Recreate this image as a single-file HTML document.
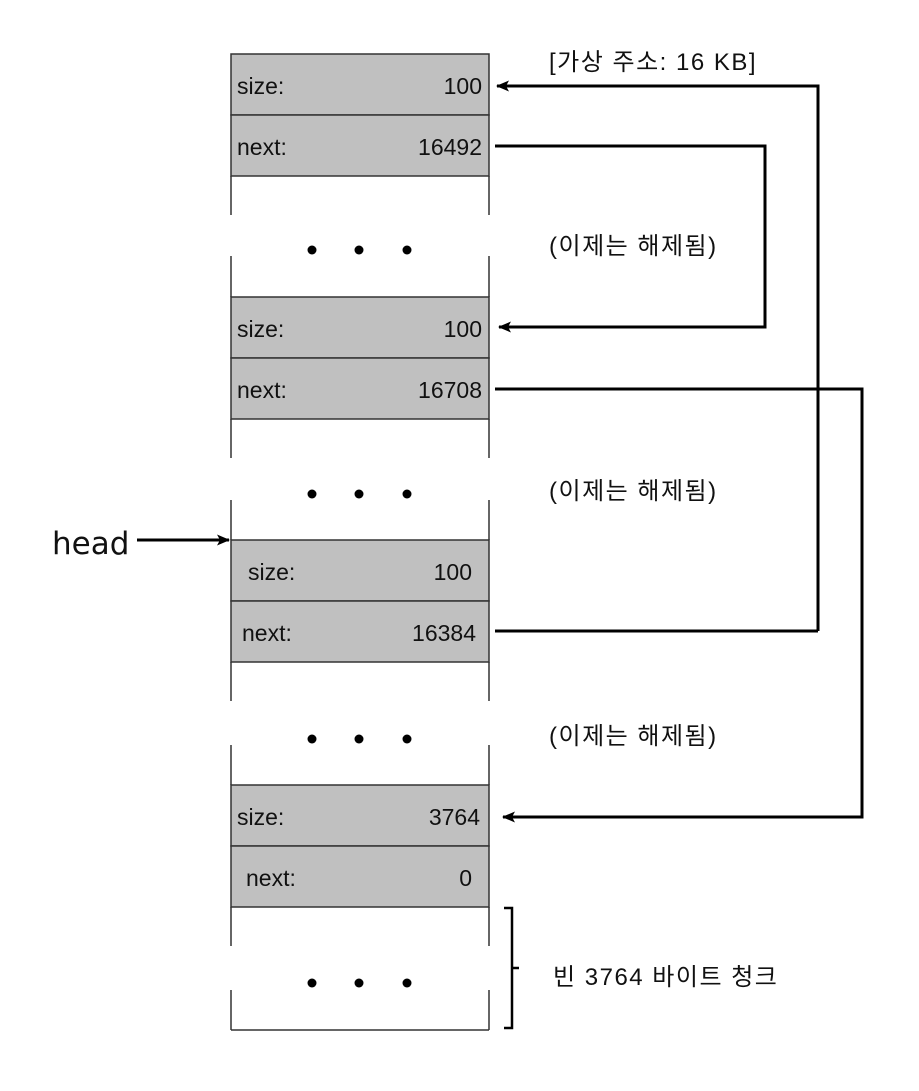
<!DOCTYPE html>
<html><head><meta charset="utf-8"><style>body{margin:0;background:#fff}svg{display:block}text{font-family:"Liberation Sans","Noto Sans CJK KR",sans-serif;fill:#111}text.c{font-size:23px}text.k{font-size:24px;letter-spacing:1.5px}</style></head><body>
<svg width="919" height="1091" viewBox="0 0 919 1091" xmlns="http://www.w3.org/2000/svg">
<defs><marker id="a" markerWidth="13" markerHeight="11" refX="12" refY="5.5" orient="auto" markerUnits="userSpaceOnUse"><path d="M0,0 L13,5.5 L0,11 L3,5.5 Z" fill="#000"/></marker></defs>
<g stroke="#333" stroke-width="1.5">
<rect x="231" y="54" width="258" height="61" fill="#c0c0c0"/>
<rect x="231" y="115" width="258" height="61" fill="#c0c0c0"/>
<line x1="231" y1="176" x2="231" y2="215"/><line x1="489" y1="176" x2="489" y2="215"/>
<line x1="231" y1="256" x2="231" y2="297"/><line x1="489" y1="256" x2="489" y2="297"/>
<rect x="231" y="297" width="258" height="61" fill="#c0c0c0"/>
<rect x="231" y="358" width="258" height="61" fill="#c0c0c0"/>
<line x1="231" y1="419" x2="231" y2="458"/><line x1="489" y1="419" x2="489" y2="458"/>
<line x1="231" y1="500" x2="231" y2="540"/><line x1="489" y1="500" x2="489" y2="540"/>
<rect x="231" y="540" width="258" height="61" fill="#c0c0c0"/>
<rect x="231" y="601" width="258" height="61" fill="#c0c0c0"/>
<line x1="231" y1="662" x2="231" y2="701"/><line x1="489" y1="662" x2="489" y2="701"/>
<line x1="231" y1="745" x2="231" y2="785"/><line x1="489" y1="745" x2="489" y2="785"/>
<rect x="231" y="785" width="258" height="61" fill="#c0c0c0"/>
<rect x="231" y="846" width="258" height="61" fill="#c0c0c0"/>
<line x1="231" y1="907" x2="231" y2="946"/><line x1="489" y1="907" x2="489" y2="946"/>
<line x1="231" y1="990" x2="231" y2="1030"/><line x1="489" y1="990" x2="489" y2="1030"/>
<line x1="231" y1="1030" x2="489" y2="1030"/>
</g>
<g fill="#000">
<circle cx="312" cy="250" r="4.5"/><circle cx="359" cy="250" r="4.5"/><circle cx="407" cy="250" r="4.5"/>
<circle cx="312" cy="494" r="4.5"/><circle cx="359" cy="494" r="4.5"/><circle cx="407" cy="494" r="4.5"/>
<circle cx="312" cy="739" r="4.5"/><circle cx="359" cy="739" r="4.5"/><circle cx="407" cy="739" r="4.5"/>
<circle cx="312" cy="983" r="4.5"/><circle cx="359" cy="983" r="4.5"/><circle cx="407" cy="983" r="4.5"/>
</g>
<text class="c" x="237" y="94">size:</text><text class="c" x="482" y="94" text-anchor="end">100</text>
<text class="c" x="237" y="155">next:</text><text class="c" x="482" y="155" text-anchor="end">16492</text>
<text class="c" x="237" y="337">size:</text><text class="c" x="482" y="337" text-anchor="end">100</text>
<text class="c" x="237" y="398">next:</text><text class="c" x="482" y="398" text-anchor="end">16708</text>
<text class="c" x="248" y="580">size:</text><text class="c" x="472" y="580" text-anchor="end">100</text>
<text class="c" x="242" y="641">next:</text><text class="c" x="476" y="641" text-anchor="end">16384</text>
<text class="c" x="237" y="825">size:</text><text class="c" x="480" y="825" text-anchor="end">3764</text>
<text class="c" x="246" y="886">next:</text><text class="c" x="472" y="886" text-anchor="end">0</text>
<text class="k" x="549" y="70">[가상 주소: 16 KB]</text>
<text class="k" x="549" y="254">(이제는 해제됨)</text>
<text class="k" x="549" y="499">(이제는 해제됨)</text>
<text class="k" x="549" y="744">(이제는 해제됨)</text>
<text class="k" x="553" y="985">빈 3764 바이트 청크</text>
<text x="52" y="554" font-size="31" style="font-family:'DejaVu Sans',sans-serif">head</text>
<g stroke="#000" stroke-width="3" fill="none">
<polyline points="818,631 495,631" />
<polyline points="818,631 818,86 497,86" marker-end="url(#a)"/>
<polyline points="495,146 765,146 765,327 499,327" marker-end="url(#a)"/>
<polyline points="495,389 862,389 862,817 503,817" marker-end="url(#a)"/>
<polyline points="137,540 229,540" marker-end="url(#a)"/>
<polyline points="504,908 512,908 512,1028 504,1028" stroke-width="2.5"/>
<line x1="512" y1="968" x2="519" y2="968" stroke-width="2.5"/>
</g>
</svg>
</body></html>
